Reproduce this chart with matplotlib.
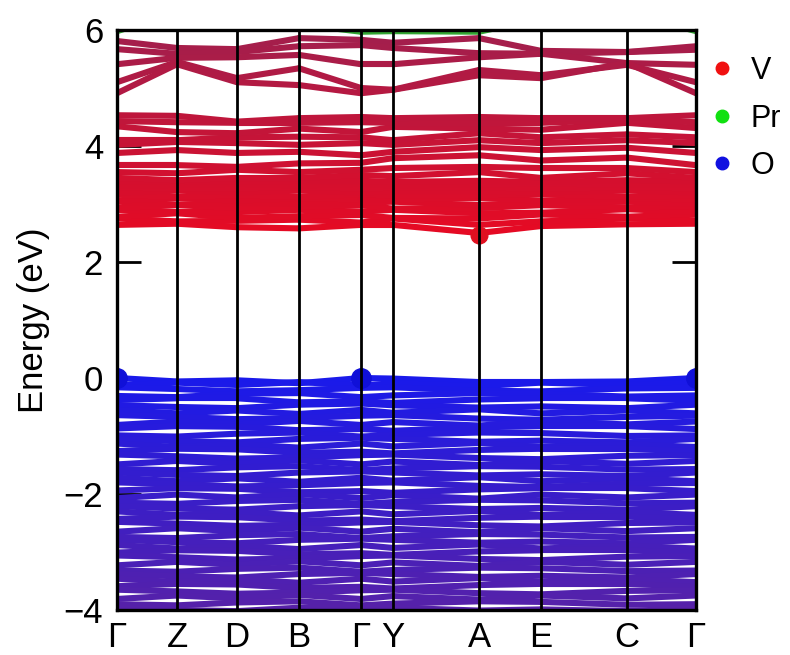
import matplotlib
matplotlib.use("Agg")
import matplotlib.pyplot as plt
import numpy as np
from matplotlib.collections import LineCollection
from matplotlib.lines import Line2D

plt.rcParams['font.family'] = ['Liberation Sans', 'DejaVu Sans']

# k-path: high-symmetry labels and cumulative path length
kpath_labels = ['Γ', 'Z', 'D', 'B', 'Γ', 'Y', 'A', 'E', 'C', 'Γ']
kpath_dist = [0, 60, 120, 182, 244, 276, 362, 424, 510, 579]

# Pr-derived band just above 6 eV
pr_bands = [
    [5.98, 6.30, 6.40, 6.10, 5.97, 5.98, 5.97, 6.20, 6.30, 5.98],
]

# Upper V-d conduction bands (4.9 - 5.9 eV)
upper_bands = [
    [5.81, 5.69, 5.67, 5.86, 5.83, 5.78, 5.86, 5.64, 5.62, 5.72],
    [5.67, 5.59, 5.62, 5.72, 5.74, 5.69, 5.60, 5.59, 5.62, 5.66],
    [5.41, 5.52, 5.53, 5.57, 5.41, 5.41, 5.53, 5.59, 5.43, 5.40],
    [5.10, 5.45, 5.17, 5.34, 5.00, 4.97, 5.31, 5.22, 5.40, 5.10],
    [4.91, 5.41, 5.10, 5.05, 4.91, 4.97, 5.22, 5.17, 5.43, 4.91],
]

# Middle conduction bands (3.4 - 4.6 eV)
middle_bands = [
    [3.45, 3.41, 3.45, 3.45, 3.50, 3.48, 3.55, 3.45, 3.53, 3.45],
    [3.55, 3.53, 3.59, 3.55, 3.59, 3.62, 3.64, 3.62, 3.62, 3.55],
    [3.67, 3.67, 3.64, 3.70, 3.71, 3.79, 3.84, 3.75, 3.80, 3.67],
    [3.88, 3.93, 3.88, 3.90, 3.84, 3.90, 3.98, 3.93, 3.97, 3.88],
    [4.02, 4.07, 4.05, 4.02, 4.05, 4.02, 4.10, 4.05, 4.10, 4.05],
    [4.10, 4.10, 4.15, 4.16, 4.15, 4.10, 4.22, 4.15, 4.20, 4.15],
    [4.34, 4.24, 4.22, 4.30, 4.24, 4.33, 4.30, 4.28, 4.40, 4.31],
    [4.43, 4.41, 4.40, 4.40, 4.41, 4.40, 4.40, 4.40, 4.45, 4.41],
    [4.53, 4.52, 4.42, 4.48, 4.50, 4.48, 4.50, 4.48, 4.48, 4.53],
]

# Lower conduction block (2.5 - 3.4 eV)
lower_bands = [
    [2.64, 2.66, 2.60, 2.58, 2.64, 2.64, 2.50, 2.62, 2.65, 2.66],
    [2.75, 2.70, 2.71, 2.73, 2.68, 2.75, 2.64, 2.70, 2.75, 2.72],
    [2.78, 2.84, 2.76, 2.79, 2.81, 2.76, 2.75, 2.82, 2.78, 2.83],
    [2.90, 2.86, 2.86, 2.90, 2.87, 2.90, 2.84, 2.85, 2.91, 2.86],
    [2.93, 2.98, 2.93, 2.95, 2.98, 2.92, 2.93, 2.98, 2.94, 2.96],
    [3.04, 2.99, 3.02, 3.00, 3.02, 3.04, 2.98, 3.02, 3.04, 3.00],
    [3.06, 3.10, 3.06, 3.10, 3.08, 3.08, 3.10, 3.06, 3.10, 3.08],
    [3.16, 3.12, 3.15, 3.12, 3.17, 3.14, 3.15, 3.17, 3.12, 3.15],
    [3.19, 3.23, 3.20, 3.23, 3.20, 3.22, 3.22, 3.20, 3.23, 3.20],
    [3.29, 3.26, 3.27, 3.29, 3.27, 3.28, 3.29, 3.26, 3.29, 3.27],
    [3.32, 3.33, 3.35, 3.32, 3.35, 3.32, 3.34, 3.35, 3.34, 3.33],
    [3.38, 3.40, 3.38, 3.40, 3.40, 3.38, 3.40, 3.38, 3.41, 3.39],
]

# O-p valence bands (0 to -4 eV)
valence_bands = [
    [0.00, -0.06, -0.04, -0.09, 0.00, -0.01, -0.07, -0.07, -0.06, 0.00],
    [-0.13, -0.08, -0.12, -0.07, -0.13, -0.09, -0.14, -0.08, -0.12, -0.08],
    [-0.16, -0.19, -0.23, -0.21, -0.17, -0.16, -0.22, -0.23, -0.18, -0.17],
    [-0.31, -0.33, -0.27, -0.26, -0.33, -0.30, -0.26, -0.27, -0.32, -0.30],
    [-0.38, -0.35, -0.35, -0.42, -0.40, -0.43, -0.37, -0.35, -0.35, -0.39],
    [-0.47, -0.50, -0.52, -0.46, -0.44, -0.47, -0.51, -0.49, -0.52, -0.46],
    [-0.55, -0.61, -0.56, -0.62, -0.55, -0.60, -0.54, -0.61, -0.56, -0.61],
    [-0.64, -0.67, -0.71, -0.69, -0.65, -0.64, -0.70, -0.72, -0.67, -0.65],
    [-0.81, -0.75, -0.80, -0.74, -0.81, -0.76, -0.82, -0.75, -0.80, -0.75],
    [-0.87, -0.83, -0.84, -0.90, -0.88, -0.91, -0.85, -0.83, -0.83, -0.88],
    [-0.99, -1.01, -0.96, -0.94, -1.01, -0.98, -0.94, -0.95, -1.00, -0.99],
    [-1.05, -1.09, -1.11, -1.05, -1.03, -1.05, -1.10, -1.08, -1.11, -1.05],
    [-1.13, -1.19, -1.14, -1.20, -1.13, -1.18, -1.12, -1.19, -1.14, -1.19],
    [-1.26, -1.22, -1.23, -1.29, -1.27, -1.30, -1.24, -1.22, -1.22, -1.27],
    [-1.32, -1.35, -1.39, -1.37, -1.33, -1.32, -1.38, -1.40, -1.34, -1.33],
    [-1.49, -1.43, -1.48, -1.42, -1.49, -1.44, -1.50, -1.43, -1.48, -1.43],
    [-1.57, -1.59, -1.54, -1.52, -1.59, -1.56, -1.52, -1.53, -1.58, -1.57],
    [-1.63, -1.67, -1.69, -1.63, -1.61, -1.63, -1.68, -1.66, -1.69, -1.63],
    [-1.72, -1.78, -1.73, -1.79, -1.72, -1.77, -1.71, -1.78, -1.73, -1.78],
    [-1.80, -1.83, -1.87, -1.85, -1.81, -1.80, -1.86, -1.88, -1.82, -1.81],
    [-1.94, -1.90, -1.91, -1.97, -1.95, -1.98, -1.92, -1.90, -1.90, -1.95],
    [-2.07, -2.01, -2.06, -2.00, -2.07, -2.02, -2.08, -2.01, -2.06, -2.01],
    [-2.15, -2.17, -2.12, -2.10, -2.17, -2.14, -2.10, -2.11, -2.16, -2.15],
    [-2.21, -2.25, -2.27, -2.21, -2.19, -2.21, -2.26, -2.24, -2.27, -2.21],
    [-2.30, -2.36, -2.31, -2.37, -2.30, -2.35, -2.29, -2.36, -2.31, -2.36],
    [-2.43, -2.39, -2.40, -2.46, -2.44, -2.47, -2.41, -2.39, -2.39, -2.44],
    [-2.48, -2.51, -2.55, -2.53, -2.49, -2.48, -2.54, -2.56, -2.50, -2.49],
    [-2.65, -2.59, -2.64, -2.58, -2.65, -2.60, -2.66, -2.59, -2.64, -2.59],
    [-2.74, -2.76, -2.71, -2.69, -2.76, -2.73, -2.69, -2.70, -2.75, -2.74],
    [-2.79, -2.83, -2.85, -2.79, -2.77, -2.79, -2.84, -2.82, -2.85, -2.79],
    [-2.88, -2.94, -2.89, -2.95, -2.88, -2.93, -2.87, -2.94, -2.89, -2.94],
    [-3.01, -2.97, -2.98, -3.04, -3.02, -3.05, -2.99, -2.97, -2.97, -3.02],
    [-3.06, -3.09, -3.13, -3.11, -3.07, -3.06, -3.12, -3.14, -3.08, -3.07],
    [-3.23, -3.17, -3.22, -3.16, -3.23, -3.18, -3.24, -3.17, -3.22, -3.17],
    [-3.32, -3.34, -3.29, -3.27, -3.34, -3.31, -3.27, -3.28, -3.33, -3.32],
    [-3.38, -3.42, -3.44, -3.38, -3.36, -3.38, -3.43, -3.41, -3.44, -3.38],
    [-3.46, -3.52, -3.47, -3.53, -3.46, -3.51, -3.45, -3.52, -3.47, -3.52],
    [-3.59, -3.55, -3.56, -3.62, -3.60, -3.63, -3.57, -3.55, -3.55, -3.60],
    [-3.65, -3.68, -3.72, -3.70, -3.66, -3.65, -3.71, -3.73, -3.67, -3.66],
    [-3.81, -3.75, -3.80, -3.74, -3.81, -3.76, -3.82, -3.75, -3.80, -3.75],
    [-3.90, -3.92, -3.87, -3.85, -3.92, -3.89, -3.85, -3.86, -3.91, -3.90],
    [-3.96, -4.00, -4.02, -3.96, -3.94, -3.96, -4.01, -3.99, -4.02, -3.96],
    [-4.05, -4.11, -4.06, -4.12, -4.05, -4.10, -4.04, -4.11, -4.06, -4.11],
]

# band extrema
vbm_kindex = [0, 4, 9]
vbm_energy = 0.0
cbm_kindex = [6]
cbm_energy = 2.47

legend_species = ['V', 'Pr', 'O']
legend_colors = ['#f01010', '#10e010', '#1010e0']

y_ticks = [6, 4, 2, 0, -2, -4]


def band_rgb(e):
    """Projection-style colour: red (V) for conduction, blue (O) for valence."""
    if e > 5.95:
        return (0.20, 0.65, 0.20)
    if e > 1.0:
        t = np.clip((e - 2.55) / 3.3, 0, 1)
        lo = np.array([0.90, 0.04, 0.14])
        hi = np.array([0.64, 0.12, 0.30])
        return tuple(lo * (1 - t) + hi * t)
    t = np.clip(-e / 4.0, 0, 1)
    lo = np.array([0.10, 0.10, 0.92])
    hi = np.array([0.34, 0.13, 0.66])
    return tuple(lo * (1 - t) + hi * t)


fig = plt.figure(figsize=(7.9, 6.55), dpi=100)
ax = fig.add_axes([117 / 790, 1 - 610 / 655, 579 / 790, 580 / 655])

k = np.array(kpath_dist, dtype=float)
all_bands = valence_bands + lower_bands + middle_bands + upper_bands + pr_bands
for band in all_bands:
    e = np.array(band, dtype=float)
    pts = np.column_stack([k, e])
    segs = np.stack([pts[:-1], pts[1:]], axis=1)
    cols = [band_rgb(0.5 * (a + b)) for a, b in zip(e[:-1], e[1:])]
    lc = LineCollection(segs, colors=cols, linewidths=4.4, capstyle='round',
                        joinstyle='round', zorder=2)
    ax.add_collection(lc)

# band-edge markers
ax.plot([kpath_dist[i] for i in vbm_kindex], [vbm_energy] * len(vbm_kindex),
        'o', color='#1010d8', markersize=14, zorder=3)
ax.plot([kpath_dist[i] for i in cbm_kindex], [cbm_energy] * len(cbm_kindex),
        'o', color='#e01020', markersize=12, zorder=3)

# high-symmetry lines
for x in kpath_dist[1:-1]:
    ax.axvline(x, color='black', linewidth=2.0, zorder=4)

ax.set_xlim(kpath_dist[0], kpath_dist[-1])
ax.set_ylim(-4, 6)
ax.set_xticks(kpath_dist)
ax.set_xticklabels(kpath_labels, fontsize=25)
ax.tick_params(axis='x', length=0, pad=8)
ax.set_yticks(y_ticks)
ax.set_yticklabels([str(v).replace('-', '\u2212') for v in y_ticks], fontsize=25)
ax.tick_params(axis='y', direction='in', length=17, width=2.0, left=True,
               right=True, pad=10)
for s in ax.spines.values():
    s.set_linewidth(2.4)
    s.set_zorder(5)
ax.set_ylabel('Energy (eV)', fontsize=25, labelpad=10)

handles = [Line2D([], [], marker='o', ls='', color=c, markersize=9)
           for c in legend_colors]
ax.legend(handles, legend_species, loc='upper left', bbox_to_anchor=(1.019, 0.955),
          frameon=False, fontsize=22, handletextpad=0.43, labelspacing=0.57,
          handlelength=1.0, borderaxespad=0, borderpad=0)

fig.savefig('out.png', dpi=100)
